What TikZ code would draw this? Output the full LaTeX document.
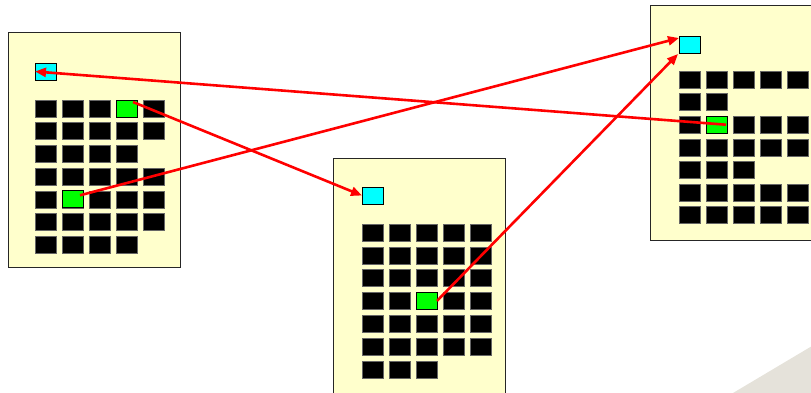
\documentclass[tikz,border=0pt]{standalone}
\usetikzlibrary{arrows.meta,calc}
\definecolor{pagefill}{RGB}{255,255,204}
\definecolor{cellgreen}{RGB}{0,255,0}
\definecolor{cellcyan}{RGB}{0,255,255}
\definecolor{shadegray}{RGB}{229,226,218}
\begin{document}
\begin{tikzpicture}[x=1pt,y=-1pt,
  page/.style={draw=black!85,fill=pagefill,line width=0.9pt},
  cell/.style={draw=black!60,fill=black,line width=0.5pt,inner sep=0pt,outer sep=0pt,
    minimum width=21pt,minimum height=17pt,anchor=north west},
  greencell/.style={cell,fill=cellgreen,draw=black,line width=0.8pt},
  cyancell/.style={cell,fill=cellcyan,draw=black,line width=0.8pt},
  link/.style={draw=red,line width=2.6pt,-{Triangle[length=11pt,width=9pt]}}]
\path[use as bounding box] (0,0) rectangle (811,392);
\fill[shadegray] (733,393) -- (812,346) -- (812,393) -- cycle;
% pages
\draw[page] (8,32) rectangle (180,267);
\draw[page] (333,158) rectangle (505,400);
\draw[page] (650,5) rectangle (825,240);
% left page cells
\foreach \n [count=\r] in {5,5,4,5,5,5,4} {
  \foreach \c in {1,...,\n} {
    \node[cell] (L-\r-\c) at ({35+27*(\c-1)},{100+22.7*(\r-1)}) {};
  }
}
% middle page cells
\foreach \n [count=\r] in {5,5,5,5,5,5,3} {
  \foreach \c in {1,...,\n} {
    \node[cell] (M-\r-\c) at ({362+27*(\c-1)},{224+22.8*(\r-1)}) {};
  }
}
% right page cells
\foreach \n [count=\r] in {5,2,5,5,3,5,5} {
  \foreach \c in {1,...,\n} {
    \node[cell] (R-\r-\c) at ({679+27*(\c-1)},{71+22.6*(\r-1)}) {};
  }
}
% highlighted cells
\node[greencell] (lg1) at (116,100) {};
\node[greencell] (lg2) at (62,190.8) {};
\node[greencell] (mg) at (416,292.4) {};
\node[greencell] (rg) at (706,116.2) {};
\node[cyancell] (lc) at (35,63) {};
\node[cyancell] (mc) at (362,187) {};
\node[cyancell] (rc) at (679,36) {};
% links
\draw[link] ($(lg1.north east)+(-4,2)$) -- (mc.west);
\draw[link] ($(lg2.east)+(-3,-4)$) -- ($(rc.north west)+(0,2)$);
\draw[link] ($(rg.east)+(-1,0)$) -- (lc.west);
\draw[link] (mg.east) -- ($(rc.south west)+(-1,1)$);
\end{tikzpicture}
\end{document}
